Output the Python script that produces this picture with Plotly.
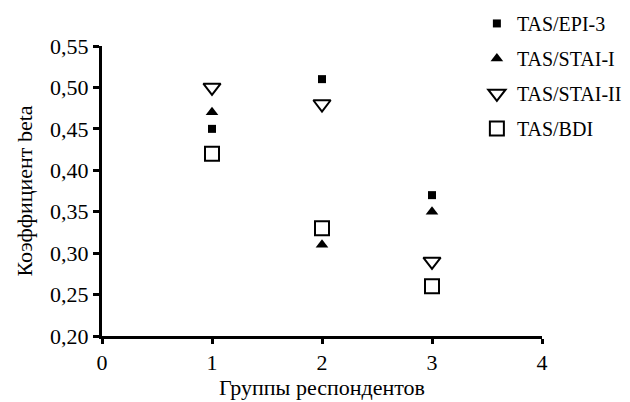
import plotly.graph_objects as go

groups = [1, 2, 3]
epi3 = [0.45, 0.51, 0.37]
stai1 = [0.47, 0.31, 0.35]
stai2 = [0.50, 0.48, 0.29]
bdi = [0.42, 0.33, 0.26]

series = [
    ("TAS/EPI-3", epi3, dict(symbol="square", size=8, color="black")),
    ("TAS/STAI-I", stai1, dict(symbol="triangle-up", size=11, color="black")),
    ("TAS/STAI-II", stai2, dict(symbol="triangle-down-open", size=15, color="black", line=dict(width=2, color="black"))),
    ("TAS/BDI", bdi, dict(symbol="square-open", size=14, color="black", line=dict(width=2, color="black"))),
]

fig = go.Figure()
for name, ys, mk in series:
    fig.add_trace(go.Scatter(x=groups, y=ys, mode="markers", name=name, marker=mk, legendgroup=name))

font = "Liberation Serif"
fig.update_layout(
    width=630, height=402,
    margin=dict(l=94, r=96, t=38, b=74, autoexpand=False),
    paper_bgcolor="white", plot_bgcolor="white",
    font=dict(family=font, size=22, color="black"),
    legend=dict(x=0.852, y=1.145, xanchor="left", yanchor="top",
                font=dict(family=font, size=20, color="black"),
                tracegroupgap=6, itemwidth=30, bgcolor="rgba(0,0,0,0)"),
    xaxis=dict(range=[0, 4], tickvals=[0, 1, 2, 3, 4], ticktext=["0", "1", "2", "3", "4"],
               showline=True, linewidth=3, linecolor="black", ticks="outside",
               ticklen=5, tickwidth=3, tickcolor="black", showgrid=False, zeroline=False,
               title=dict(text="Группы респондентов", font=dict(size=22), standoff=0)),
    yaxis=dict(range=[0.2, 0.55], tickvals=[0.2, 0.25, 0.3, 0.35, 0.4, 0.45, 0.5, 0.55],
               ticktext=["0,20", "0,25", "0,30", "0,35", "0,40", "0,45", "0,50", "0,55"],
               showline=True, linewidth=3, linecolor="black", ticks="outside",
               ticklen=6, tickwidth=3, tickcolor="black", showgrid=False, zeroline=False,
               title=dict(text="Коэффициент beta", font=dict(size=22), standoff=12)),
)

fig.write_html("out.html")
